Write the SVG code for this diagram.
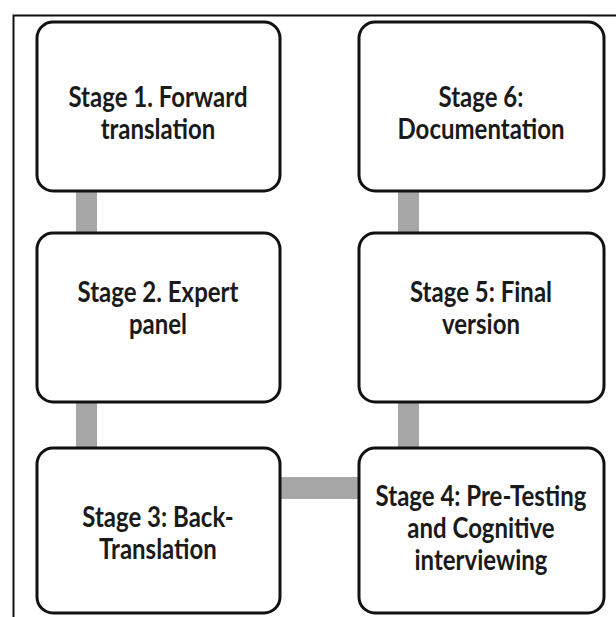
<svg xmlns="http://www.w3.org/2000/svg" width="616" height="617" viewBox="0 0 616 617">
<style>
.box{fill:#fff;stroke:#111;stroke-width:3}
.t{font-family:Lato,"Open Sans",sans-serif;font-weight:bold;font-size:24px;fill:#1a1a1a;text-anchor:middle}
.c{fill:#a6a6a6}
</style>
<rect width="616" height="617" fill="#fff"/>
<path d="M13.5 617 V15.5 H616" fill="none" stroke="#111" stroke-width="2"/>
<g id="connectors">
<rect class="c" x="76" y="190" width="21" height="44"/>
<rect class="c" x="76" y="400" width="21" height="49"/>
<rect class="c" x="398" y="190" width="21" height="44"/>
<rect class="c" x="398" y="400" width="21" height="49"/>
<rect class="c" x="279" y="477" width="81" height="22"/>
</g>
<g id="stage1"><rect class="box" x="37" y="22" width="243" height="169" rx="16"/>
<text class="t" transform="translate(158,107) scale(1,1.15)">Stage 1. Forward</text><text class="t" transform="translate(158,139) scale(1,1.15)">translation</text></g>
<g id="stage2"><rect class="box" x="37" y="233" width="243" height="169" rx="16"/>
<text class="t" transform="translate(158,302) scale(1,1.15)">Stage 2. Expert</text><text class="t" transform="translate(158,334) scale(1,1.15)">panel</text></g>
<g id="stage3"><rect class="box" x="37" y="448" width="243" height="165" rx="16"/>
<text class="t" transform="translate(158,527) scale(1,1.15)">Stage 3: Back-</text><text class="t" transform="translate(158,559) scale(1,1.15)">Translation</text></g>
<g id="stage4"><rect class="box" x="359" y="448" width="245" height="165" rx="16"/>
<text class="t" transform="translate(481,506) scale(1,1.15)">Stage 4: Pre-Testing</text><text class="t" transform="translate(481,538) scale(1,1.15)">and Cognitive</text><text class="t" transform="translate(481,570) scale(1,1.15)">interviewing</text></g>
<g id="stage5"><rect class="box" x="359" y="233" width="245" height="169" rx="16"/>
<text class="t" transform="translate(481,302) scale(1,1.15)">Stage 5: Final</text><text class="t" transform="translate(481,334) scale(1,1.15)">version</text></g>
<g id="stage6"><rect class="box" x="359" y="22" width="245" height="169" rx="16"/>
<text class="t" transform="translate(481,107) scale(1,1.15)">Stage 6:</text><text class="t" transform="translate(481,139) scale(1,1.15)">Documentation</text></g>
</svg>
